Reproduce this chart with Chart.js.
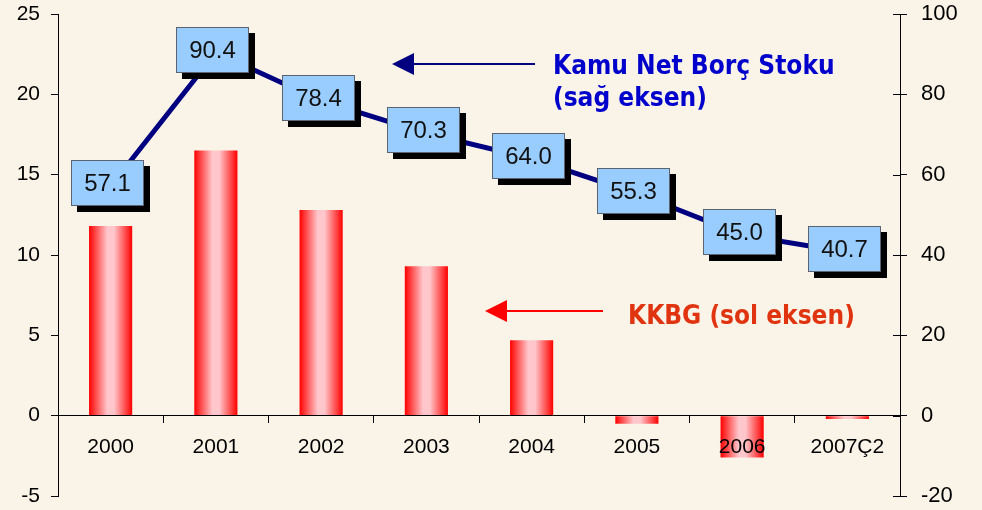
<!doctype html>
<html>
<head>
<meta charset="utf-8">
<title>KKBG ve Kamu Net Borç Stoku</title>
<script src="https://cdn.jsdelivr.net/npm/chart.js@4.4.1/dist/chart.umd.min.js"></script>
<style>
  html, body { margin: 0; padding: 0; background: #FAF3E7; }
  #wrap { width: 982px; height: 510px; }
</style>
</head>
<body>
<div id="wrap"><canvas id="myChart"></canvas></div>
<script>
// veriler
var years = ['2000', '2001', '2002', '2003', '2004', '2005', '2006', '2007Ç2'];
var kkbg = [11.8, 16.5, 12.8, 9.3, 4.7, -0.5, -2.6, -0.2];          // sol eksen
var borcStoku = [57.1, 90.4, 78.4, 70.3, 64.0, 55.3, 45.0, 40.7];  // sağ eksen
var leftAxis = { min: -5, max: 25, step: 5 };
var rightAxis = { min: -20, max: 100, step: 20 };

var BAR_PCT = 0.41;
var FONT = '"Liberation Sans", Arial, sans-serif';

// kırmızı silindir görünümü
function barFill(ctx) {
  var chart = ctx.chart;
  if (!chart.chartArea || ctx.type !== 'data') return '#ff0000';
  var xs = chart.scales.x;
  var cx = xs.getPixelForValue(ctx.dataIndex);
  var w = xs.width / years.length * BAR_PCT;
  var g = chart.ctx.createLinearGradient(cx - w / 2, 0, cx + w / 2, 0);
  g.addColorStop(0, '#ff0000');
  g.addColorStop(0.12, '#ff3a3a');
  g.addColorStop(0.42, '#ffc6cb');
  g.addColorStop(0.58, '#ffc6cb');
  g.addColorStop(0.88, '#ff3a3a');
  g.addColorStop(1, '#ff0000');
  return g;
}

// sağ eksende içe doğru çentikler
var innerTicks = {
  id: 'innerTicks',
  afterDraw: function(chart) {
    var s = chart.scales.y1, c = chart.ctx;
    c.save();
    c.strokeStyle = '#000';
    c.lineWidth = 1;
    s.ticks.forEach(function(t) {
      var y = Math.round(s.getPixelForValue(t.value)) + 0.5;
      c.beginPath();
      c.moveTo(s.left - 7, y);
      c.lineTo(s.left, y);
      c.stroke();
    });
    c.restore();
  }
};

// değer kutuları
var valueBoxes = {
  id: 'valueBoxes',
  afterDatasetsDraw: function(chart) {
    var meta = chart.getDatasetMeta(1), c = chart.ctx;
    var w = 73, h = 46;
    c.save();
    meta.data.forEach(function(pt, i) {
      var x = Math.round(pt.x - 3 - w / 2), y = Math.round(pt.y - 3 - h / 2);
      c.fillStyle = '#000';
      c.fillRect(x + 6, y + 6, w, h);
      c.fillStyle = '#99ccff';
      c.fillRect(x, y, w, h);
      c.strokeStyle = '#5a6470';
      c.lineWidth = 1;
      c.strokeRect(x + 0.5, y + 0.5, w - 1, h - 1);
      c.fillStyle = '#111';
      c.font = '24px ' + FONT;
      c.textAlign = 'center';
      c.textBaseline = 'middle';
      c.fillText(borcStoku[i].toFixed(1), x + w / 2, y + h / 2 + 1);
    });
    c.restore();
  }
};

function arrow(c, x1, x2, y, color) {
  c.strokeStyle = color;
  c.fillStyle = color;
  c.lineWidth = 2;
  c.beginPath();
  c.moveTo(x2, y);
  c.lineTo(x1 + 18, y);
  c.stroke();
  c.beginPath();
  c.moveTo(x1, y);
  c.lineTo(x1 + 22, y - 11);
  c.lineTo(x1 + 22, y + 11);
  c.closePath();
  c.fill();
}

// açıklamalar
var notes = {
  id: 'notes',
  afterDraw: function(chart) {
    var c = chart.ctx;
    c.save();
    arrow(c, 392, 535, 64, '#000080');
    arrow(c, 485, 603, 311, '#ff0000');
    c.font = 'bold 26px "DejaVu Sans Condensed", "DejaVu Sans", sans-serif';
    c.textAlign = 'left';
    c.textBaseline = 'alphabetic';
    c.fillStyle = '#0000cc';
    c.fillText('Kamu Net Borç Stoku', 553, 74);
    c.fillText('(sağ eksen)', 553, 106);
    c.fillStyle = '#e0330f';
    c.fillText('KKBG (sol eksen)', 628, 324);
    c.restore();
  }
};

function noPad(s) {
  s.paddingTop = 0;
  s.paddingBottom = 0;
}

var ctx = document.getElementById('myChart').getContext('2d');
var chart = new Chart(ctx, {
  type: 'bar',
  data: {
    labels: years,
    datasets: [{
      label: 'KKBG (sol eksen)',
      data: kkbg,
      yAxisID: 'y',
      backgroundColor: barFill,
      borderWidth: 0,
      barPercentage: BAR_PCT,
      categoryPercentage: 1,
      order: 2
    }, {
      type: 'line',
      label: 'Kamu Net Borç Stoku (sağ eksen)',
      data: borcStoku,
      yAxisID: 'y1',
      borderColor: '#000080',
      borderWidth: 5,
      pointRadius: 0,
      tension: 0,
      order: 1
    }]
  },
  options: {
    responsive: true,
    maintainAspectRatio: false,
    animation: false,
    devicePixelRatio: 1,
    layout: { padding: { top: 14, bottom: 14, left: 0, right: 0 } },
    plugins: { legend: { display: false }, tooltip: { enabled: false } },
    scales: {
      x: {
        position: { y: 0 },
        grid: { drawOnChartArea: false, drawTicks: true, tickLength: 7, tickColor: '#000', offset: true, z: 1 },
        border: { color: '#000', width: 1, z: 1 },
        ticks: { color: '#000', font: { family: FONT, size: 21 }, padding: 12, maxRotation: 0, z: 1 }
      },
      y: {
        position: 'left',
        min: leftAxis.min, max: leftAxis.max,
        grid: { drawOnChartArea: false, tickLength: 7, tickColor: '#000' },
        border: { color: '#000', width: 1 },
        ticks: { stepSize: leftAxis.step, color: '#000', font: { family: FONT, size: 21 }, padding: 11 },
        afterFit: function(s) { s.width = 58; noPad(s); }
      },
      y1: {
        position: 'right',
        min: rightAxis.min, max: rightAxis.max,
        grid: { drawOnChartArea: false, tickLength: 7, tickColor: '#000' },
        border: { color: '#000', width: 1 },
        ticks: { stepSize: rightAxis.step, color: '#000', font: { family: FONT, size: 22 }, padding: 14 },
        afterFit: function(s) { s.width = 82; noPad(s); }
      }
    }
  },
  plugins: [innerTicks, valueBoxes, notes]
});
</script>
</body>
</html>
